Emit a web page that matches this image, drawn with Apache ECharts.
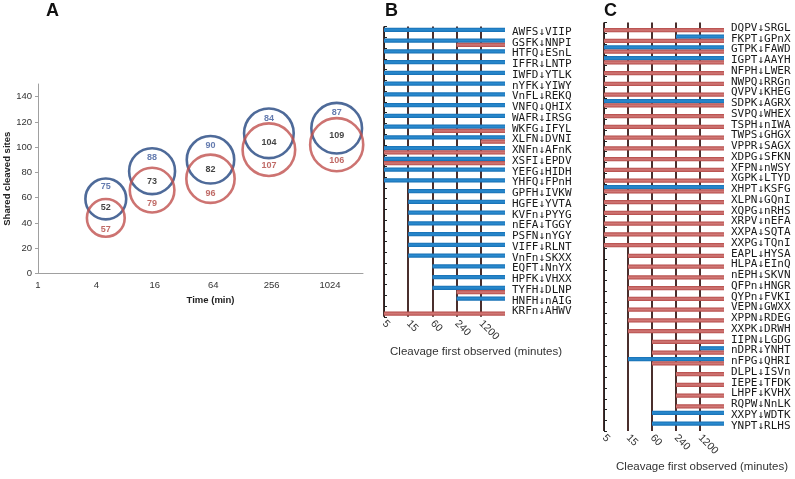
<!DOCTYPE html>
<html><head><meta charset="utf-8">
<script src="https://cdn.jsdelivr.net/npm/echarts@6/dist/echarts.min.js"></script>
<style>html,body{margin:0;padding:0;background:#fff}#c{width:795px;height:479px}</style>
</head><body><div id="c"></div>
<script>
// ---------- Panel A data ----------
const timesA = [5, 15, 60, 240, 1200];
const blueOnlyA = [75, 88, 90, 84, 87];
const sharedA = [52, 73, 82, 104, 109];
const redOnlyA = [57, 79, 96, 107, 106];
const blueCenterA = [59, 81, 90, 111, 115];
const redCenterA = [44, 66, 75, 98, 102];
const yMaxA = 150;

// ---------- Panels B & C data ----------
const stageTimes = [5, 15, 60, 240, 1200];

const peptidesB = ["AWFS↓VIIP","GSFK↓NNPI","HTFQ↓ESnL","IFFR↓LNTP","IWFD↓YTLK","nYFK↓YIWY","VnFL↓REKQ","VNFQ↓QHIX","WAFR↓IRSG","WKFG↓IFYL","XLFN↓DVNI","XNFn↓AFnK","XSFI↓EPDV","YEFG↓HIDH","YHFQ↓FPnH","GPFH↓IVKW","HGFE↓YVTA","KVFn↓PYYG","nEFA↓TGGY","PSFN↓nYGY","VIFF↓RLNT","VnFn↓SKXX","EQFT↓NnYX","HPFK↓VHXX","TYFH↓DLNP","HNFH↓nAIG","KRFn↓AHWV"];
const blueFirstB = [5,5,5,5,5,5,5,5,5,5,5,5,5,5,5,15,15,15,15,15,15,15,60,60,60,240,null];
const redFirstB  = [null,240,null,null,null,null,null,null,null,60,1200,5,5,null,null,null,null,null,null,null,null,null,null,null,240,null,5];

const peptidesC = ["DQPV↓SRGL","FKPT↓GPnX","GTPK↓FAWD","IGPT↓AAYH","NFPH↓LWER","NWPQ↓RRGn","QVPV↓KHEG","SDPK↓AGRX","SVPQ↓WHEX","TSPH↓nIWA","TWPS↓GHGX","VPPR↓SAGX","XDPG↓SFKN","XFPN↓nWSY","XGPK↓LTYD","XHPT↓KSFG","XLPN↓GQnI","XQPG↓nRHS","XRPV↓nEFA","XXPA↓SQTA","XXPG↓TQnI","EAPL↓HYSA","HLPA↓EInQ","nEPH↓SKVN","QFPn↓HNGR","QYPn↓FVKI","VEPN↓GWXX","XPPN↓RDEG","XXPK↓DRWH","IIPN↓LGDG","nDPR↓YNHT","nFPG↓QHRI","DLPL↓ISVn","IEPE↓TFDK","LHPF↓KVHX","RQPW↓NnLK","XXPY↓WDTK","YNPT↓RLHS"];
const blueFirstC = [null,240,5,5,null,null,null,5,null,null,null,null,null,null,null,5,null,null,null,null,null,null,null,null,null,null,null,null,null,null,1200,15,null,null,null,null,60,60];
const redFirstC  = [5,5,5,5,5,5,5,5,5,5,5,5,5,5,5,5,5,5,5,5,5,15,15,15,15,15,15,15,15,60,60,60,240,240,240,240,null,null];

// ---------- build ----------
const log2 = v => Math.log(v) / Math.LN2;
const sizeOf = total => 3.62 * Math.sqrt(total);
const FONT = 'Liberation Sans';

function circleData(centers, only) {
  return timesA.map((t, i) => {
    const s = sizeOf(only[i] + sharedA[i]);
    return { value: [log2(t), centers[i]], symbolSize: s, _s: s };
  });
}
const blueCirc = circleData(blueCenterA, blueOnlyA).map(d => ({...d, label: {offset: [0, -0.3 * d._s]}}));
const redCirc = circleData(redCenterA, redOnlyA).map(d => ({...d, label: {offset: [0, 0.3 * d._s]}}));

const blueGrad = {type:'linear',x:0,y:0,x2:0,y2:1,colorStops:[{offset:0,color:'#166fb3'},{offset:0.5,color:'#2a8bd0'},{offset:1,color:'#166fb3'}]};
const redGrad = {type:'linear',x:0,y:0,x2:0,y2:1,colorStops:[{offset:0,color:'#b44a48'},{offset:0.5,color:'#d27a78'},{offset:1,color:'#b44a48'}]};

function barPair(gi, firsts, color, stack) {
  const idx = firsts.map(t => t == null ? '-' : stageTimes.indexOf(t));
  const len = idx.map(v => v === '-' ? '-' : stageTimes.length - v);
  const common = {type:'bar', xAxisIndex: gi, yAxisIndex: gi, stack: stack, barWidth: 4.3, barGap: '0%', animation:false};
  return [
    Object.assign({}, common, {data: idx, itemStyle:{color:'rgba(0,0,0,0)'}, silent:true}),
    Object.assign({}, common, {data: len, itemStyle:{color: color}})
  ];
}

function stageXAxis(gi) {
  return {
    gridIndex: gi, type: 'value', min: 0, max: stageTimes.length, interval: 1,
    axisLine: {show:false}, axisTick: {show:false},
    splitLine: {show:true, showMaxLine:false, lineStyle:{color:'#4a2f2d', width:2}},
    axisLabel: {rotate: -45, margin: 5, fontSize: 10.5, color:'#333', fontFamily: FONT, showMaxLabel:false,
      formatter: v => (stageTimes[v] !== undefined ? String(stageTimes[v]) : '')}
  };
}
function pepYAxis(gi, cats) {
  return {
    gridIndex: gi, type: 'category', data: cats, inverse: true, position: 'right',
    axisLine: {show:true, lineStyle:{color:'#222', width:1}},
    axisTick: {show:true, length:3, lineStyle:{color:'#222'}},
    axisLabel: {interval:0, margin:7, fontSize:11, color:'#1a1a1a', fontFamily:'DejaVu Sans Mono'},
    splitLine: {show:false}
  };
}

const option = {
  animation: false,
  backgroundColor: '#fff',
  title: [
    {text:'A', left:46, top:2, padding:0, textStyle:{fontSize:18, fontWeight:'bold', fontFamily:FONT, color:'#111'}},
    {text:'B', left:385, top:2, padding:0, textStyle:{fontSize:18, fontWeight:'bold', fontFamily:FONT, color:'#111'}},
    {text:'C', left:604, top:2, padding:0, textStyle:{fontSize:18, fontWeight:'bold', fontFamily:FONT, color:'#111'}},
    {text:'Cleavage first observed (minutes)', left:476, top:346, textAlign:'center', padding:0, textStyle:{fontSize:11.5, fontWeight:'normal', fontFamily:FONT, color:'#333'}},
    {text:'Cleavage first observed (minutes)', left:702, top:461, textAlign:'center', padding:0, textStyle:{fontSize:11.5, fontWeight:'normal', fontFamily:FONT, color:'#333'}}
  ],
  grid: [
    {left:38, top:84, width:325, height:189.5},
    {left:384, top:26.6, width:121, height:27 * 10.75},
    {left:604, top:22.6, width:120, height:38 * 10.75}
  ],
  xAxis: [
    {gridIndex:0, type:'value', min:0, max:11.13, interval:2,
     name:'Time (min)', nameLocation:'middle', nameGap:22,
     nameTextStyle:{fontSize:9.5, fontWeight:'bold', fontFamily:FONT, color:'#222', padding:[0,0,0,20]},
     axisLine:{show:true, lineStyle:{color:'#a0a0a0'}}, axisTick:{show:false},
     splitLine:{show:false},
     axisLabel:{fontSize:9.5, color:'#333', fontFamily:FONT, margin:7, showMaxLabel:false,
       formatter: v => String(Math.round(Math.pow(2, v)))}},
    stageXAxis(1), stageXAxis(2)
  ],
  yAxis: [
    {gridIndex:0, type:'value', min:0, max:yMaxA, interval:20,
     name:'Shared cleaved sites', nameLocation:'middle', nameGap:24,
     nameTextStyle:{fontSize:9.5, fontWeight:'bold', fontFamily:FONT, color:'#222'},
     axisLine:{show:true, lineStyle:{color:'#a0a0a0'}}, axisTick:{show:true, length:3, lineStyle:{color:'#a0a0a0'}},
     splitLine:{show:false},
     axisLabel:{fontSize:9.5, color:'#333', fontFamily:FONT, margin:6, showMaxLabel:false}},
    pepYAxis(1, peptidesB), pepYAxis(2, peptidesC)
  ],
  series: [
    {type:'scatter', xAxisIndex:0, yAxisIndex:0, data: blueCirc, symbol:'circle',
     itemStyle:{color:'rgba(0,0,0,0)', borderColor:'#22457f', borderWidth:2.6},
     label:{show:true, position:'inside', formatter: p => String(blueOnlyA[p.dataIndex]), color:'#3d5a9b', fontSize:9, fontWeight:'bold', fontFamily:FONT}},
    {type:'scatter', xAxisIndex:0, yAxisIndex:0, data: redCirc, symbol:'circle',
     itemStyle:{color:'rgba(0,0,0,0)', borderColor:'#c0504d', borderWidth:2.6},
     label:{show:true, position:'inside', formatter: p => String(redOnlyA[p.dataIndex]), color:'#b04540', fontSize:9, fontWeight:'bold', fontFamily:FONT}},
    {type:'scatter', xAxisIndex:0, yAxisIndex:0, data: timesA.map((t,i) => [log2(t), sharedA[i]]), symbolSize:1,
     itemStyle:{color:'rgba(0,0,0,0)'},
     label:{show:true, position:'inside', formatter: p => String(sharedA[p.dataIndex]), color:'#111', fontSize:9, fontWeight:'bold', fontFamily:FONT}},
    ...barPair(1, blueFirstB, blueGrad, 'Bb'),
    ...barPair(1, redFirstB, redGrad, 'Br'),
    ...barPair(2, blueFirstC, blueGrad, 'Cb'),
    ...barPair(2, redFirstC, redGrad, 'Cr')
  ]
};
const chart = echarts.init(document.getElementById('c'));
chart.setOption(option);
</script></body></html>
